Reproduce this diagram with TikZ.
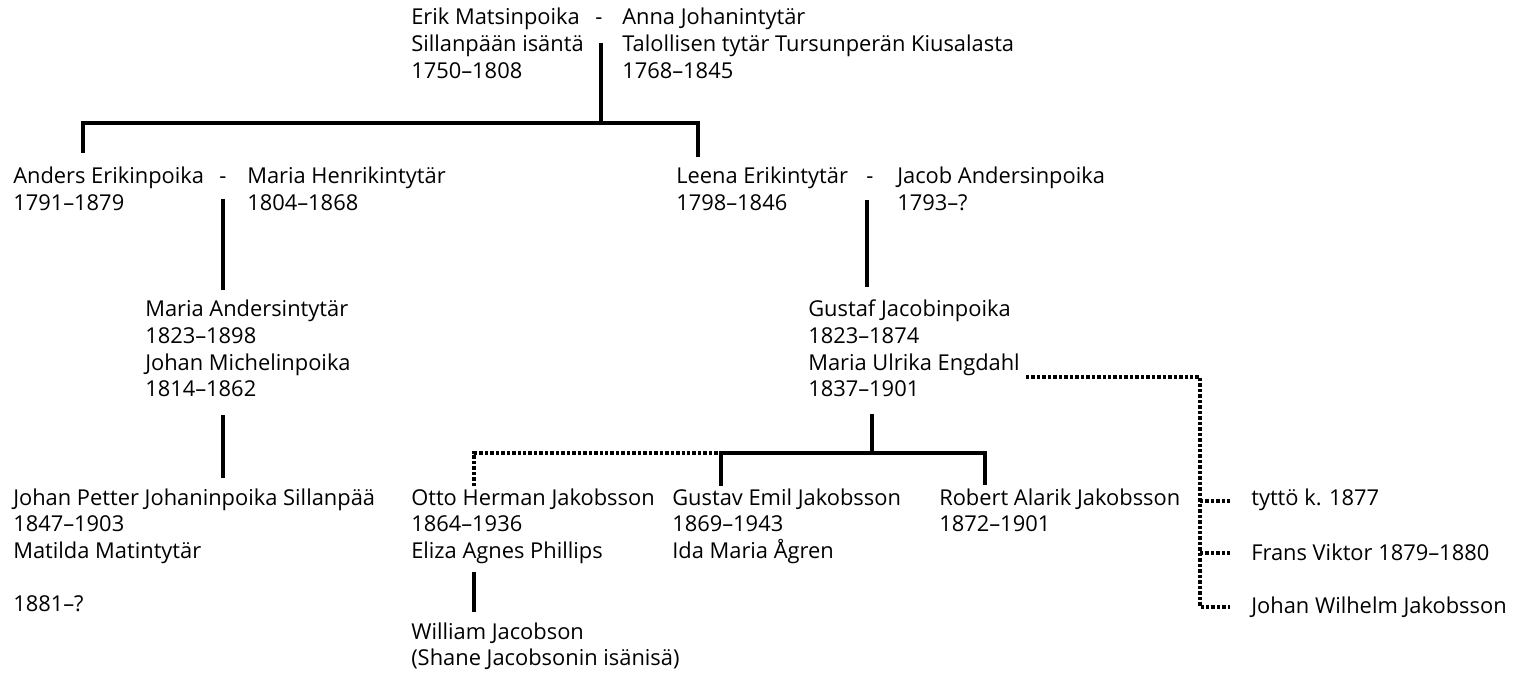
\documentclass[tikz,border=0pt]{standalone}
\usepackage{fontspec}
\setmainfont{Open Sans}
\usepackage{tikz}
\usetikzlibrary{positioning}
\newcommand{\rivit}[1]{\begin{tabular}[t]{@{}l@{}}#1\end{tabular}}
\tikzstyle{henkilo}=[anchor=base west, inner sep=0pt, font=\fontsize{16.4}{20}\selectfont]
\tikzstyle{linja}=[line width=2.4pt]
\tikzstyle{pisteet}=[line width=2.4pt, dash pattern=on 2.6pt off 1.5pt]

\begin{document}
\begin{tikzpicture}[x=0.75pt, y=-0.75pt]
	\useasboundingbox (0,0) rectangle (1538,673);

	% ylin pari
	\node[henkilo] (erik) at (411,25) {\rivit{Erik Matsinpoika\\Sillanpään isäntä\\1750–1808}};
	\node[henkilo] (viiva1) at (595,25) {-};
	\node[henkilo] (anna) at (622,25) {\rivit{Anna Johanintytär\\Talollisen tytär Tursunperän Kiusalasta\\1768–1845}};

	% lapset
	\node[henkilo] (anders) at (13,184) {\rivit{Anders Erikinpoika\\1791–1879}};
	\node[henkilo] (viiva2) at (219,184) {-};
	\node[henkilo] (mariah) at (247,184) {\rivit{Maria Henrikintytär\\1804–1868}};

	\node[henkilo] (leena) at (676,184) {\rivit{Leena Erikintytär\\1798–1846}};
	\node[henkilo] (viiva3) at (866,184) {-};
	\node[henkilo] (jacob) at (897,184) {\rivit{Jacob Andersinpoika\\1793–?}};

	\node[henkilo] (mariaa) at (145,317) {\rivit{Maria Andersintytär\\1823–1898\\Johan Michelinpoika\\1814–1862}};
	\node[henkilo] (gustaf) at (808,317) {\rivit{Gustaf Jacobinpoika\\1823–1874\\Maria Ulrika Engdahl\\1837–1901}};

	% lapsenlapset
	\node[henkilo] (johanp) at (13,505) {\rivit{Johan Petter Johaninpoika Sillanpää\\1847–1903\\Matilda Matintytär\\[20pt]1881–?}};
	\node[henkilo] (otto) at (411,505) {\rivit{Otto Herman Jakobsson\\1864–1936\\Eliza Agnes Phillips}};
	\node[henkilo] (gustav) at (672,505) {\rivit{Gustav Emil Jakobsson\\1869–1943\\Ida Maria Ågren}};
	\node[henkilo] (robert) at (939,505) {\rivit{Robert Alarik Jakobsson\\1872–1901}};
	\node[henkilo] (william) at (411,639) {\rivit{William Jacobson\\(Shane Jacobsonin isänisä)}};

	\node[henkilo] (tytto) at (1251,505) {tyttö k. 1877};
	\node[henkilo] (frans) at (1251,560) {Frans Viktor 1879–1880};
	\node[henkilo] (johanw) at (1251,613) {Johan Wilhelm Jakobsson};

	% liitoskohdat
	\coordinate (p1) at (601,43);
	\coordinate (h1) at (601,123);
	\coordinate (a1) at (83,153);
	\coordinate (l1) at (698,157);
	\coordinate (p2) at (223,199);
	\coordinate (c2) at (223,290);
	\coordinate (p3) at (223,415);
	\coordinate (c3) at (223,478);
	\coordinate (p4) at (867,200);
	\coordinate (c4) at (867,287);
	\coordinate (p5) at (872,414);
	\coordinate (h5) at (872,453);
	\coordinate (g1) at (721,486);
	\coordinate (r1) at (985,485);
	\coordinate (o1) at (474,486);
	\coordinate (p6) at (474,572);
	\coordinate (c6) at (474,612);
	\coordinate (e1) at (1026,377);
	\coordinate (d1) at (1200,607);
	\coordinate (s1) at (1230,501);
	\coordinate (s2) at (1230,553);
	\coordinate (s3) at (1230,607);

	\draw[linja] (p1) -- (h1);
	\draw[linja] (a1) |- (h1) -| (l1);
	\draw[linja] (p2) -- (c2);
	\draw[linja] (p3) -- (c3);
	\draw[linja] (p4) -- (c4);
	\draw[linja] (p5) -- (h5);
	\draw[linja] (g1) |- (h5) -| (r1);
	\draw[pisteet] (o1) |- (g1 |- h5);
	\draw[linja] (p6) -- (c6);

	\draw[pisteet] (e1) -| (d1) -- (s3);
	\draw[pisteet] (d1 |- s1) -- (s1);
	\draw[pisteet] (d1 |- s2) -- (s2);
\end{tikzpicture}
\end{document}
